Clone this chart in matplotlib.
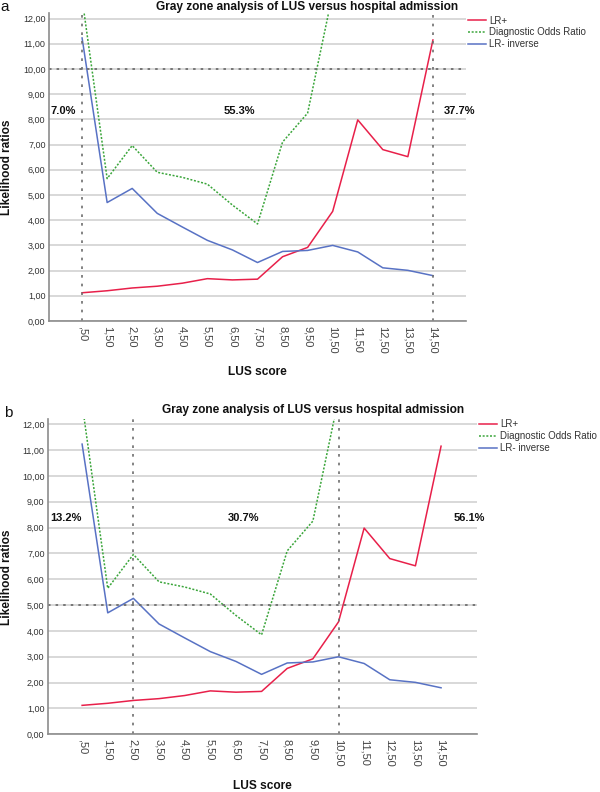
import matplotlib
matplotlib.use("Agg")
import matplotlib.pyplot as plt

plt.rcParams["font.family"] = ["Liberation Sans", "DejaVu Sans"]

#DATA
lus_labels = [",50", "1,50", "2,50", "3,50", "4,50", "5,50", "6,50", "7,50",
              "8,50", "9,50", "10,50", "11,50", "12,50", "13,50", "14,50"]
lr_pos = [1.12, 1.20, 1.31, 1.38, 1.50, 1.68, 1.63, 1.66,
          2.55, 2.92, 4.35, 7.98, 6.80, 6.52, 11.15]
dor = [12.8, 5.65, 6.96, 5.9, 5.7, 5.43, 4.6, 3.85,
       7.1, 8.25, 13.0, 21.9, 14.4, 13.1, 20.1]
lr_neg_inv = [11.23, 4.70, 5.26, 4.27, 3.73, 3.20, 2.82, 2.32,
              2.76, 2.80, 3.00, 2.74, 2.11, 2.01, 1.80]
y_ticks = list(range(0, 13))
y_tick_labels = ["%d,00" % v for v in y_ticks]

title = "Gray zone analysis of LUS versus hospital admission"

# panel a / panel b gray zones
cuts_a = [",50", "14,50"]
level_a = 10
pct_a = ["7.0%", "55.3%", "37.7%"]

cuts_b = ["2,50", "10,50"]
level_b = 5
pct_b = ["13.2%", "30.7%", "56.1%"]

#STYLE
W, H = 600, 792
red = "#e8204a"
green = "#3aa53a"
blue = "#5872c4"
ref_gray = "#6e6e6e"
txt_gray = "#333333"

fig = plt.figure(figsize=(W / 100, H / 100), dpi=100)


def panel(box, ylim_top, xlim, cuts, level, pcts, pct_x, pct_y, letter, letter_xy,
          title_xy, ylabel_xy, xlabel_xy, legend_xy):
    l, r, t, b = box
    ax = fig.add_axes([l / W, 1 - b / H, (r - l) / W, (b - t) / H])
    x = list(range(len(lus_labels)))

    ax.plot(x, lr_pos, color=red, lw=1.1, label="LR+")
    ax.plot(x, dor, color=green, lw=1.1, linestyle=(0, (1.3, 1.1)),
            label="Diagnostic Odds Ratio")
    ax.plot(x, lr_neg_inv, color=blue, lw=1.1, label="LR- inverse")

    for c in cuts:
        ax.axvline(lus_labels.index(c), color=ref_gray, lw=1.2,
                   linestyle=(0, (1.6, 3.6)))
    ax.axhline(level, color=ref_gray, lw=1.3, linestyle=(0, (1.4, 2.8)))

    ax.set_xlim(*xlim)
    ax.set_ylim(0, ylim_top)
    ax.set_yticks(y_ticks)
    ax.set_yticklabels(y_tick_labels, fontsize=6.5, color=txt_gray)
    ax.set_xticks(x)
    ax.set_xticklabels(lus_labels, rotation=-90, fontsize=8, color="#444444")
    ax.tick_params(length=0)
    ax.tick_params(axis="y", pad=2.5)
    ax.tick_params(axis="x", pad=3.5)

    ax.grid(axis="y", color="#d2d2d2", lw=1.2)
    ax.set_axisbelow(True)
    for s in ["top", "right"]:
        ax.spines[s].set_visible(False)
    for s in ["left", "bottom"]:
        ax.spines[s].set_color("#8c8c8c")
        ax.spines[s].set_linewidth(1.2)

    for p, px in zip(pcts, pct_x):
        ax.text(px, pct_y, p, ha="center", va="center", fontsize=8,
                fontweight="bold", color="#111111", clip_on=False)

    fig.text(title_xy[0] / W, 1 - title_xy[1] / H, title, ha="center",
             va="center", fontsize=8.6, fontweight="bold", color="#111111")
    fig.text(letter_xy[0] / W, 1 - letter_xy[1] / H, letter, ha="center",
             va="center", fontsize=11, color="#111111")
    fig.text(ylabel_xy[0] / W, 1 - ylabel_xy[1] / H, "Likelihood ratios",
             rotation=90, ha="center", va="center", fontsize=8.6,
             fontweight="bold", color="#111111")
    fig.text(xlabel_xy[0] / W, 1 - xlabel_xy[1] / H, "LUS score",
             ha="center", va="center", fontsize=8.6, fontweight="bold",
             color="#111111")

    leg = ax.legend(loc="upper left", bbox_to_anchor=(legend_xy[0] / W, 1 - legend_xy[1] / H),
                    bbox_transform=fig.transFigure, frameon=False, fontsize=7,
                    handlelength=1.85, handletextpad=0.3, labelspacing=0.2,
                    borderpad=0, borderaxespad=0)
    for t_ in leg.get_texts():
        t_.set_color(txt_gray)
    return ax


#PANEL A
panel((49, 466, 13, 321), 12.22, (-1.32, 15.32), cuts_a, level_a, pct_a,
      [-0.76, 6.26, 15.06], 8.35, "a", (5, 7), (307.5, 7), (7, 167),
      (257.5, 372), (468, 15.5))

#PANEL B
panel((48, 476.7, 419.3, 734.3), 12.19, (-1.33, 15.39), cuts_b, level_b, pct_b,
      [-0.64, 6.28, 15.11], 8.38, "b", (8, 413.5), (313, 410), (7, 577),
      (262, 786), (479, 419.5))

fig.savefig("out.png", dpi=100)
